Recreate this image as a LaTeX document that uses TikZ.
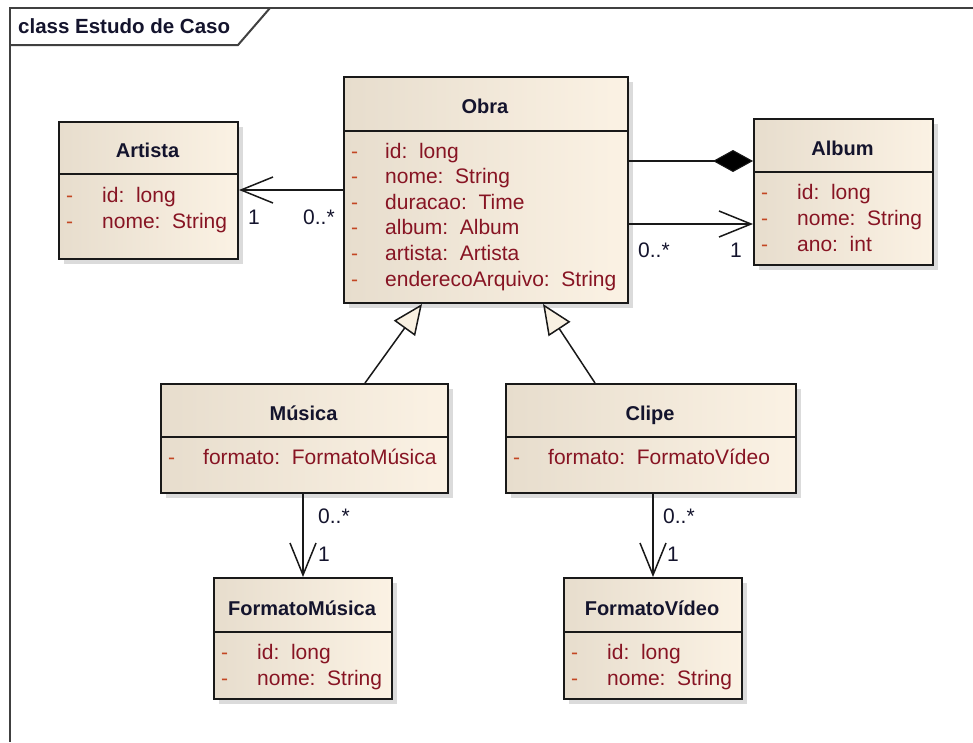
\documentclass[tikz,border=0pt]{standalone}
\usepackage{fontspec}
\setmainfont{Liberation Sans}
\usetikzlibrary{arrows.meta,shadows}

\definecolor{boxL}{RGB}{231,221,205}
\definecolor{boxR}{RGB}{251,242,228}
\definecolor{attrc}{RGB}{135,20,35}
\definecolor{visc}{RGB}{195,70,35}
\definecolor{ttlc}{RGB}{20,20,45}
\definecolor{edgec}{RGB}{25,25,25}
\definecolor{framec}{RGB}{64,64,64}
\definecolor{trifill}{RGB}{249,241,226}

\tikzset{
  classbox/.style={draw=edgec, line width=2pt, left color=boxL, right color=boxR,
    inner sep=0pt, anchor=north west,
    drop shadow={shadow xshift=5pt, shadow yshift=-5pt, fill=black!28}},
  ctitle/.style={font=\fontsize{20}{24}\selectfont\bfseries, text=ttlc, anchor=base, inner sep=0pt},
  attrtext/.style={font=\fontsize{21}{25}\selectfont, text=attrc, anchor=base west, inner sep=0pt},
  vis/.style={font=\fontsize{21}{25}\selectfont, text=visc, anchor=base west, inner sep=0pt},
  mult/.style={font=\fontsize{21}{25}\selectfont, text=ttlc, anchor=base west, inner sep=0pt},
  sepline/.style={draw=edgec, line width=2pt},
  assoc/.style={draw=edgec, line width=1.5pt,
    -{Straight Barb[length=32pt, width=26pt, line width=1.5pt]}},
  comp/.style={draw=edgec, line width=1.5pt,
    -{Diamond[length=40pt, width=22pt, fill=black, line width=1pt]}},
  generalization/.style={draw=edgec, line width=1.5pt,
    -{Triangle[length=30pt, width=26pt, fill=trifill, line width=1.5pt]}},
  framerule/.style={draw=framec, line width=2pt},
}

% one attribute row: name, x of the visibility mark, x of the text, baseline, text
\newcommand\attrrow[5]{%
  \node[vis] (#1v) at (#2,#4) {-};
  \node[attrtext] (#1) at (#3,#4) {#5};}
\newcommand\sig[2]{#1:\ \ #2}

\begin{document}
\begin{tikzpicture}[x=1pt, y=-1pt]
\useasboundingbox[fill=white] (0,0) rectangle (973,742);

% package frame
\draw[framerule] (973,8) -- (10,8) -- (10,742);
\draw[framerule] (10,45) -- (238,45) -- (270,8);
\node[font=\fontsize{20.5}{24}\selectfont\bfseries, text=ttlc, anchor=base west, inner sep=0pt]
  (frametitle) at (18,33) {class Estudo de Caso};

% class boxes
\node[classbox, minimum width=284pt, minimum height=226pt] (obra)    at (343,76)  {};
\node[classbox, minimum width=179pt, minimum height=137pt] (artista) at (58,121)  {};
\node[classbox, minimum width=179pt, minimum height=146pt] (album)   at (753,118) {};
\node[classbox, minimum width=287pt, minimum height=109pt] (musica)  at (160,383) {};
\node[classbox, minimum width=290pt, minimum height=109pt] (clipe)   at (505,383) {};
\node[classbox, minimum width=178pt, minimum height=121pt] (fmus)    at (213,577) {};
\node[classbox, minimum width=178pt, minimum height=121pt] (fvid)    at (563,577) {};

% compartment separators
\draw[sepline] (obra.west |- 0,131)    -- (obra.east |- 0,131);
\draw[sepline] (artista.west |- 0,174) -- (artista.east |- 0,174);
\draw[sepline] (album.west |- 0,172)   -- (album.east |- 0,172);
\draw[sepline] (musica.west |- 0,437)  -- (musica.east |- 0,437);
\draw[sepline] (clipe.west |- 0,437)   -- (clipe.east |- 0,437);
\draw[sepline] (fmus.west |- 0,632)    -- (fmus.east |- 0,632);
\draw[sepline] (fvid.west |- 0,632)    -- (fvid.east |- 0,632);

% class names
\node[ctitle] (obraT)    at (485,113) {Obra};
\node[ctitle] (artistaT) at (147.5,157) {Artista};
\node[ctitle] (albumT)   at (842.5,155) {Album};
\node[ctitle] (musicaT)  at (303.5,420) {Música};
\node[ctitle] (clipeT)   at (650,420) {Clipe};
\node[ctitle] (fmusT)    at (302,615) {FormatoMúsica};
\node[ctitle] (fvidT)    at (652,615) {FormatoVídeo};

% attributes
\attrrow{oa1}{351}{385}{158}{\sig{id}{long}}
\attrrow{oa2}{351}{385}{183}{\sig{nome}{String}}
\attrrow{oa3}{351}{385}{209}{\sig{duracao}{Time}}
\attrrow{oa4}{351}{385}{234}{\sig{album}{Album}}
\attrrow{oa5}{351}{385}{260}{\sig{artista}{Artista}}
\attrrow{oa6}{351}{385}{286}{\sig{enderecoArquivo}{String}}

\attrrow{ar1}{66}{102}{202}{\sig{id}{long}}
\attrrow{ar2}{66}{102}{228}{\sig{nome}{String}}

\attrrow{al1}{761}{797}{199}{\sig{id}{long}}
\attrrow{al2}{761}{797}{225}{\sig{nome}{String}}
\attrrow{al3}{761}{797}{251}{\sig{ano}{int}}

\attrrow{mu1}{168}{203}{464}{\sig{formato}{FormatoMúsica}}
\attrrow{cl1}{513}{548}{464}{\sig{formato}{FormatoVídeo}}

\attrrow{fm1}{221}{257}{659}{\sig{id}{long}}
\attrrow{fm2}{221}{257}{685}{\sig{nome}{String}}
\attrrow{fv1}{571}{607}{659}{\sig{id}{long}}
\attrrow{fv2}{571}{607}{685}{\sig{nome}{String}}

% associations
\draw[assoc] (obra.west |- 0,190) -- (artista.east |- 0,190);
\draw[comp]  (obra.east |- 0,161) -- (album.west |- 0,161);
\draw[assoc] (obra.east |- 0,224) -- (album.west |- 0,224);
\draw[assoc] (musica.south -| fmus.north) -- (fmus.north);
\draw[assoc] (clipe.south -| fvid.north) -- (fvid.north);

% generalizations
\draw[generalization] (musica.north -| 365,0) -- (obra.south -| 422,0);
\draw[generalization] (clipe.north -| 595,0) -- (obra.south -| 543,0);

% multiplicities
\node[mult] (m1) at (248,224) {1};
\node[mult] (m2) at (303,224) {0..*};
\node[mult] (m3) at (638,257) {0..*};
\node[mult] (m4) at (730,257) {1};
\node[mult] (m5) at (318,523) {0..*};
\node[mult] (m6) at (318,561) {1};
\node[mult] (m7) at (663,523) {0..*};
\node[mult] (m8) at (667,561) {1};
\end{tikzpicture}
\end{document}
